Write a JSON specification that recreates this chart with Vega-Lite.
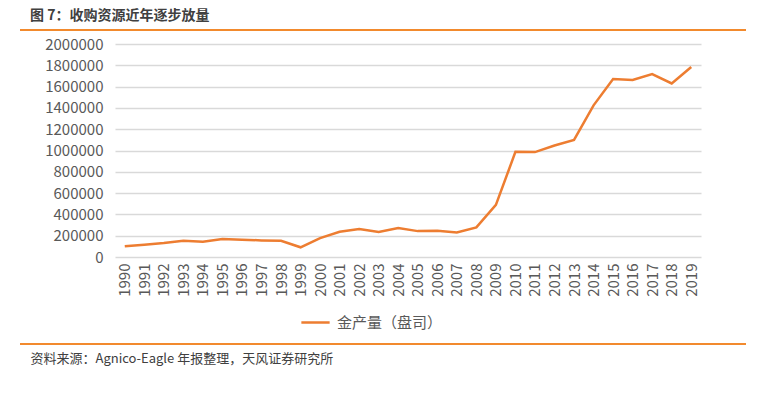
{
  "$schema": "https://vega.github.io/schema/vega-lite/v6.json",
  "width": 586,
  "height": 213,
  "autosize": {"type": "none"},
  "padding": {"left": 115, "top": 44, "right": 62, "bottom": 141},
  "background": "white",
  "config": {"view": {"stroke": null}, "font": "Noto Sans CJK SC"},
  "title": {
    "text": "图 7：收购资源近年逐步放量",
    "anchor": "start",
    "frame": "group",
    "dx": -85,
    "offset": 6,
    "fontSize": 14,
    "fontWeight": "bold",
    "color": "#404040",
    "font": "Noto Sans CJK SC"
  },
  "data": {
    "values": [
      {"year": "1990", "value": 100000},
      {"year": "1991", "value": 116000},
      {"year": "1992", "value": 131000},
      {"year": "1993", "value": 153000},
      {"year": "1994", "value": 144000},
      {"year": "1995", "value": 168000},
      {"year": "1996", "value": 163000},
      {"year": "1997", "value": 156000},
      {"year": "1998", "value": 153000},
      {"year": "1999", "value": 91000},
      {"year": "2000", "value": 178000},
      {"year": "2001", "value": 237000},
      {"year": "2002", "value": 262000},
      {"year": "2003", "value": 234000},
      {"year": "2004", "value": 271000},
      {"year": "2005", "value": 243000},
      {"year": "2006", "value": 247000},
      {"year": "2007", "value": 231000},
      {"year": "2008", "value": 278000},
      {"year": "2009", "value": 490000},
      {"year": "2010", "value": 987000},
      {"year": "2011", "value": 985000},
      {"year": "2012", "value": 1047000},
      {"year": "2013", "value": 1100000},
      {"year": "2014", "value": 1424000},
      {"year": "2015", "value": 1671000},
      {"year": "2016", "value": 1662000},
      {"year": "2017", "value": 1718000},
      {"year": "2018", "value": 1630000},
      {"year": "2019", "value": 1784000}
    ]
  },
  "layer": [
    {
      "mark": {"type": "line", "strokeWidth": 2.5},
      "encoding": {
        "x": {
          "field": "year",
          "type": "ordinal",
          "scale": {"type": "point", "padding": 0.5},
          "axis": {
            "title": "资料来源：Agnico-Eagle 年报整理，天风证券研究所",
            "titleAnchor": "start",
            "titleAlign": "left",
            "titleBaseline": "middle",
            "titleX": -85,
            "titleY": 101,
            "titleFontSize": 13,
            "titleFontWeight": "normal",
            "titleColor": "#404040",
            "labelAngle": 270,
            "labelAlign": "right",
            "labelBaseline": "middle",
            "labelFontSize": 15,
            "labelColor": "#595959",
            "labelPadding": 6,
            "ticks": false,
            "domain": false,
            "grid": false
          }
        },
        "y": {
          "field": "value",
          "type": "quantitative",
          "scale": {"domain": [0, 2000000]},
          "axis": {
            "title": null,
            "values": [0, 200000, 400000, 600000, 800000, 1000000, 1200000, 1400000, 1600000, 1800000, 2000000],
            "format": "d",
            "labelFontSize": 15,
            "labelColor": "#595959",
            "labelPadding": 12,
            "ticks": false,
            "domain": false,
            "grid": true,
            "gridColor": "#d9d9d9",
            "gridWidth": 1.3
          }
        },
        "color": {
          "datum": "金产量（盘司）",
          "scale": {"range": ["#ED7D31"]},
          "legend": {
            "title": null,
            "orient": "none",
            "legendX": 185,
            "legendY": 263,
            "symbolType": "stroke",
            "symbolSize": 800,
            "symbolStrokeWidth": 2.5,
            "labelFontSize": 15,
            "labelColor": "#595959",
            "labelOffset": 6
          }
        }
      }
    },
    {
      "mark": {"type": "rule", "color": "#F28A2E", "strokeWidth": 1.5},
      "encoding": {"x": {"value": -95}, "x2": {"value": 631}, "y": {"value": -14}}
    },
    {
      "mark": {"type": "rule", "color": "#F28A2E", "strokeWidth": 2},
      "encoding": {"x": {"value": -95}, "x2": {"value": 631}, "y": {"value": 300}}
    }
  ]
}
